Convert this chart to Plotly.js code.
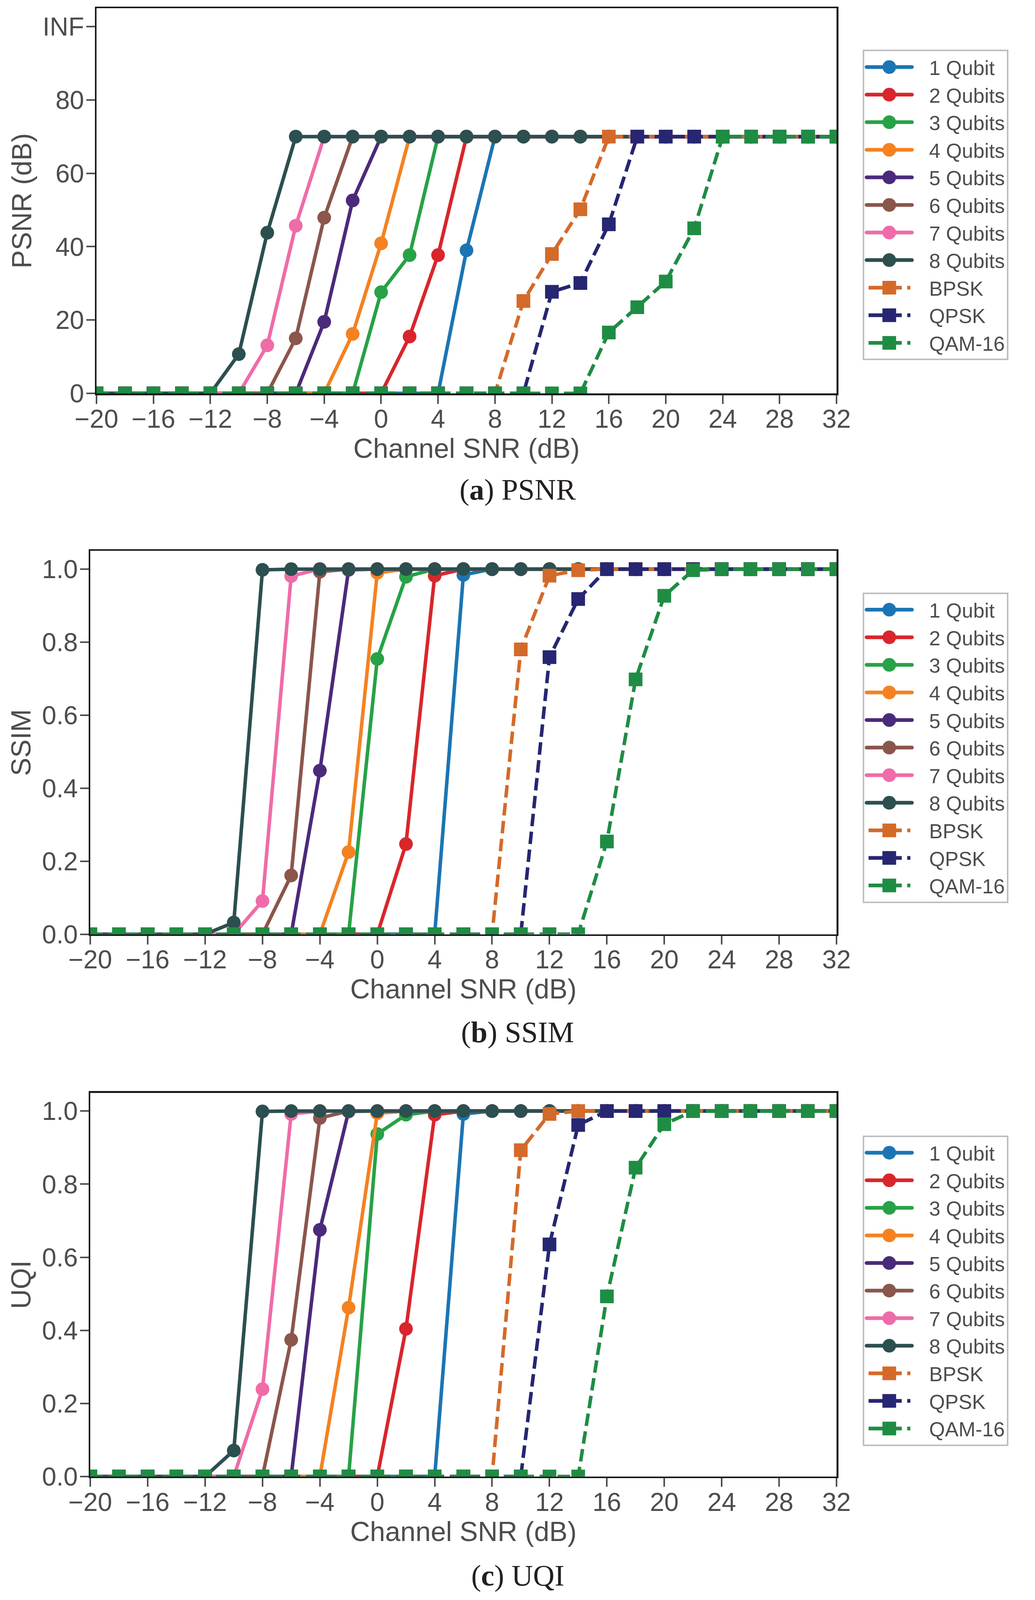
<!DOCTYPE html>
<html>
<head>
<meta charset="utf-8">
<script src="https://cdn.plot.ly/plotly-3.0.1.min.js"></script>
<style>
  html, body { margin: 0; padding: 0; background: #ffffff; overflow: hidden; }
  #grafico { width: 2649px; }
</style>
</head>
<body>
<div id="grafico"></div>
<script>
// canal SNR (dB)
var snr = [-20, -18, -16, -14, -12, -10, -8, -6, -4, -2, 0, 2, 4, 6, 8, 10, 12, 14, 16, 18, 20, 22, 24, 26, 28, 30, 32];

var xTicks = [-20, -16, -12, -8, -4, 0, 4, 8, 12, 16, 20, 24, 28, 32];
var xTickText = ["\u221220", "\u221216", "\u221212", "\u22128", "\u22124", "0", "4", "8", "12", "16", "20", "24", "28", "32"];
var psnrTicks = [0, 20, 40, 60, 80, 100];
var psnrTickText = ["0", "20", "40", "60", "80", "INF"];
var unitTicks = [0, 0.2, 0.4, 0.6, 0.8, 1.0];
var unitTickText = ["0.0", "0.2", "0.4", "0.6", "0.8", "1.0"];

var seriesNames = ["1 Qubit", "2 Qubits", "3 Qubits", "4 Qubits", "5 Qubits", "6 Qubits", "7 Qubits", "8 Qubits", "BPSK", "QPSK", "QAM-16"];

// PSNR (dB), INF se dibuja en 100
var psnrQ1   = [0,0,0,0,0, 0,0,0,0,0, 0,0,0, 39.0, 70,70,70,70,70, 70,70,70,70,70, 70,70,70];
var psnrQ2   = [0,0,0,0,0, 0,0,0,0,0, 0, 15.5, 37.7, 70,70,70,70,70, 70,70,70,70,70, 70,70,70,70];
var psnrQ3   = [0,0,0,0,0, 0,0,0,0,0, 27.6, 37.7, 70,70,70,70,70, 70,70,70,70,70, 70,70,70,70,70];
var psnrQ4   = [0,0,0,0,0, 0,0,0,0, 16.2, 40.9, 70,70,70,70,70, 70,70,70,70,70, 70,70,70,70,70, 70];
var psnrQ5   = [0,0,0,0,0, 0,0,0, 19.5, 52.6, 70,70,70,70,70, 70,70,70,70,70, 70,70,70,70,70, 70,70];
var psnrQ6   = [0,0,0,0,0, 0,0, 15.0, 47.9, 70,70,70,70,70, 70,70,70,70,70, 70,70,70,70,70, 70,70,70];
var psnrQ7   = [0,0,0,0,0, 0, 13.1, 45.7, 70,70,70,70,70, 70,70,70,70,70, 70,70,70,70,70, 70,70,70,70];
var psnrQ8   = [0,0,0,0,0, 10.7, 43.8, 70,70,70,70,70, 70,70,70,70,70, 70,70,70,70,70, 70,70,70,70,70];
var psnrBpsk = [0,0,0,0,0, 0,0,0,0,0, 0,0,0,0,0, 25.2, 38.0, 50.2, 70,70,70,70,70, 70,70,70,70];
var psnrQpsk = [0,0,0,0,0, 0,0,0,0,0, 0,0,0,0,0, 0, 27.7, 30.1, 46.1, 70,70,70,70,70, 70,70,70];
var psnrQam  = [0,0,0,0,0, 0,0,0,0,0, 0,0,0,0,0, 0,0,0, 16.6, 23.5, 30.5, 45.0, 70,70,70, 70,70];

// SSIM
var ssimQ1   = [0,0,0,0,0, 0,0,0,0,0, 0,0,0, 0.984, 1,1,1,1,1, 1,1,1,1,1, 1,1,1];
var ssimQ2   = [0,0,0,0,0, 0,0,0,0,0, 0, 0.247, 0.982, 1,1,1,1,1, 1,1,1,1,1, 1,1,1,1];
var ssimQ3   = [0,0,0,0,0, 0,0,0,0,0, 0.754, 0.979, 1,1,1,1,1, 1,1,1,1,1, 1,1,1,1,1];
var ssimQ4   = [0,0,0,0,0, 0,0,0,0, 0.225, 0.990, 1,1,1,1,1, 1,1,1,1,1, 1,1,1,1,1, 1];
var ssimQ5   = [0,0,0,0,0, 0,0,0, 0.448, 0.998, 1,1,1,1,1, 1,1,1,1,1, 1,1,1,1,1, 1,1];
var ssimQ6   = [0,0,0,0,0, 0,0, 0.161, 0.993, 1,1,1,1,1, 1,1,1,1,1, 1,1,1,1,1, 1,1,1];
var ssimQ7   = [0,0,0,0,0, 0, 0.091, 0.981, 1,1,1,1,1, 1,1,1,1,1, 1,1,1,1,1, 1,1,1,1];
var ssimQ8   = [0,0,0,0,0, 0.032, 0.998, 1,1,1,1,1, 1,1,1,1,1, 1,1,1,1,1, 1,1,1,1,1];
var ssimBpsk = [0,0,0,0,0, 0,0,0,0,0, 0,0,0,0,0, 0.780, 0.982, 0.997, 1,1,1,1,1, 1,1,1,1];
var ssimQpsk = [0,0,0,0,0, 0,0,0,0,0, 0,0,0,0,0, 0, 0.759, 0.918, 1,1,1,1,1, 1,1,1,1];
var ssimQam  = [0,0,0,0,0, 0,0,0,0,0, 0,0,0,0,0, 0,0,0, 0.254, 0.698, 0.927, 0.997, 1,1,1, 1,1];

// UQI
var uqiQ1   = [0,0,0,0,0, 0,0,0,0,0, 0,0,0, 0.992, 1,1,1,1,1, 1,1,1,1,1, 1,1,1];
var uqiQ2   = [0,0,0,0,0, 0,0,0,0,0, 0, 0.404, 0.990, 1,1,1,1,1, 1,1,1,1,1, 1,1,1,1];
var uqiQ3   = [0,0,0,0,0, 0,0,0,0,0, 0.937, 0.990, 1,1,1,1,1, 1,1,1,1,1, 1,1,1,1,1];
var uqiQ4   = [0,0,0,0,0, 0,0,0,0, 0.462, 0.994, 1,1,1,1,1, 1,1,1,1,1, 1,1,1,1,1, 1];
var uqiQ5   = [0,0,0,0,0, 0,0,0, 0.675, 0.999, 1,1,1,1,1, 1,1,1,1,1, 1,1,1,1,1, 1,1];
var uqiQ6   = [0,0,0,0,0, 0,0, 0.374, 0.981, 1,1,1,1,1, 1,1,1,1,1, 1,1,1,1,1, 1,1,1];
var uqiQ7   = [0,0,0,0,0, 0, 0.239, 0.992, 1,1,1,1,1, 1,1,1,1,1, 1,1,1,1,1, 1,1,1,1];
var uqiQ8   = [0,0,0,0,0, 0.071, 0.999, 1,1,1,1,1, 1,1,1,1,1, 1,1,1,1,1, 1,1,1,1,1];
var uqiBpsk = [0,0,0,0,0, 0,0,0,0,0, 0,0,0,0,0, 0.893, 0.992, 1,1,1,1,1, 1,1,1,1,1];
var uqiQpsk = [0,0,0,0,0, 0,0,0,0,0, 0,0,0,0,0, 0, 0.635, 0.962, 1,1,1,1,1, 1,1,1,1];
var uqiQam  = [0,0,0,0,0, 0,0,0,0,0, 0,0,0,0,0, 0,0,0, 0.493, 0.845, 0.964, 1,1,1,1, 1,1];

var psnrSeries = [psnrQ1, psnrQ2, psnrQ3, psnrQ4, psnrQ5, psnrQ6, psnrQ7, psnrQ8, psnrBpsk, psnrQpsk, psnrQam];
var ssimSeries = [ssimQ1, ssimQ2, ssimQ3, ssimQ4, ssimQ5, ssimQ6, ssimQ7, ssimQ8, ssimBpsk, ssimQpsk, ssimQam];
var uqiSeries  = [uqiQ1, uqiQ2, uqiQ3, uqiQ4, uqiQ5, uqiQ6, uqiQ7, uqiQ8, uqiBpsk, uqiQpsk, uqiQam];

var colores = ["#1b75b4", "#d8262c", "#27a246", "#f48221", "#4b2a7b", "#8b564b", "#ef6ca8", "#2c4f4f", "#d46a2a", "#262672", "#1f8c44"];

// la figura original mide 2649x4470; si la ventana es mas baja se comprime en vertical
var W = 2649, H_REF = 4470;
var H = Math.min(window.innerHeight || H_REF, H_REF);
var sansFont = "Liberation Sans, Arial, Helvetica, sans-serif";
var grisTexto = "#4d4d4d";

function px(v) { return v / W; }
function py(v) { return 1 - v / H_REF; }

document.addEventListener("DOMContentLoaded", function () {
    dibujar();
});

function armarTrazas(valores, xa, ya, leyenda) {
    var trazas = [];
    for (var i = 0; i < seriesNames.length; i++) {
        var esMod = i >= 8;
        trazas.push({
            type: "scatter",
            mode: "lines+markers",
            x: snr,
            y: valores[i],
            name: seriesNames[i],
            xaxis: xa,
            yaxis: ya,
            legend: leyenda,
            cliponaxis: true,
            line: { color: colores[i], width: 9, dash: esMod ? "32px,14px" : "solid" },
            marker: { color: colores[i], size: 35, symbol: esMod ? "square" : "circle" }
        });
    }
    return trazas;
}

function ejeX(dominio, anchorY) {
    return {
        domain: dominio,
        anchor: anchorY,
        range: [-20, 32],
        tickmode: "array",
        tickvals: xTicks,
        ticktext: xTickText,
        showgrid: false,
        zeroline: false,
        showline: true,
        linecolor: "#1a1a1a",
        linewidth: 4.5,
        mirror: true,
        ticks: "outside",
        ticklen: 22,
        tickwidth: 4,
        tickcolor: grisTexto,
        ticklabelstandoff: -18,
        tickfont: { family: sansFont, size: 66, color: grisTexto },
        automargin: false,
        title: { text: "Channel SNR (dB)", font: { family: sansFont, size: 70, color: grisTexto }, standoff: 0 }
    };
}

function ejeY(dominio, anchorX, rango, vals, textos, titulo) {
    return {
        domain: dominio,
        anchor: anchorX,
        range: rango,
        tickmode: "array",
        tickvals: vals,
        ticktext: textos,
        showgrid: false,
        zeroline: false,
        showline: true,
        linecolor: "#1a1a1a",
        linewidth: 4.5,
        mirror: true,
        ticks: "outside",
        ticklen: 22,
        tickwidth: 4,
        tickcolor: grisTexto,
        ticklabelstandoff: -8,
        tickfont: { family: sansFont, size: 66, color: grisTexto },
        automargin: false,
        title: { text: titulo, font: { family: sansFont, size: 70, color: grisTexto }, standoff: 7 }
    };
}

function leyendaEn(yTop) {
    return {
        x: px(2208),
        xanchor: "left",
        y: py(yTop),
        yanchor: "top",
        bgcolor: "#ffffff",
        bordercolor: "#bfbfbf",
        borderwidth: 4,
        itemwidth: 156,
        traceorder: "normal",
        font: { family: sansFont, size: 52, color: grisTexto }
    };
}

// simbolos de leyenda mas largos, como en la figura original
function ajustarLeyendas(gd) {
    ["g.legend", "g.legend2", "g.legend3"].forEach(function (sel) {
        var grupo = gd.querySelector(sel);
        if (!grupo) return;
        var items = grupo.querySelectorAll("g.traces");
        items.forEach(function (it, k) {
            var esMod = k >= 8;
            var d = it.__data__;
            if (d && d[0] && d[0].trace && d[0].trace.marker) {
                esMod = d[0].trace.marker.symbol === "square";
            }
            var linea = it.querySelector("g.legendlines path");
            if (linea) {
                linea.setAttribute("d", esMod ? "M11,0h107" : "M6,0h116");
                linea.style.strokeWidth = "9.5px";
                linea.style.strokeLinecap = esMod ? "butt" : "round";
                if (esMod) linea.style.strokeDasharray = "85px,14px";
            }
            var punto = it.querySelector("g.legendpoints path.scatterpts");
            if (punto) {
                punto.setAttribute("d", esMod ? "M17.5,17.5H-17.5V-17.5H17.5Z" : "M17.5,0A17.5,17.5 0 1,1 0,-17.5A17.5,17.5 0 0,1 17.5,0Z");
                punto.setAttribute("transform", "translate(64,0)");
            }
        });
    });
}

function pie(texto, yRef) {
    return {
        text: texto, xref: "paper", yref: "paper", x: 0.5, y: py(yRef),
        xanchor: "center", yanchor: "middle", showarrow: false,
        font: { family: "Liberation Serif, Times New Roman, serif", size: 76, color: "#231f20" }
    };
}

function dibujar() {
    document.getElementById("grafico").style.height = H + "px";

    var data = []
        .concat(armarTrazas(psnrSeries, "x", "y", "legend"))
        .concat(armarTrazas(ssimSeries, "x2", "y2", "legend2"))
        .concat(armarTrazas(uqiSeries, "x3", "y3", "legend3"));

    var layout = {
        width: W,
        height: H,
        margin: { l: 0, r: 0, t: 0, b: 0 },
        paper_bgcolor: "#ffffff",
        plot_bgcolor: "#ffffff",
        showlegend: true,
        xaxis: ejeX([px(247), px(2141)], "y"),
        yaxis: ejeY([py(1099), py(23)], "x", [0, 105], psnrTicks, psnrTickText, "PSNR (dB)"),
        xaxis2: ejeX([px(231), px(2141)], "y2"),
        yaxis2: ejeY([py(2610), py(1539)], "x2", [0, 1.05], unitTicks, unitTickText, "SSIM"),
        xaxis3: ejeX([px(231), px(2141)], "y3"),
        yaxis3: ejeY([py(4125), py(3053)], "x3", [0, 1.05], unitTicks, unitTickText, "UQI"),
        legend: leyendaEn(139),
        legend2: leyendaEn(1655),
        legend3: leyendaEn(3172),
        annotations: [
            pie("(<b>a</b>) PSNR", 1368),
            pie("(<b>b</b>) SSIM", 2884),
            pie("(<b>c</b>) UQI", 4402)
        ]
    };

    Plotly.newPlot("grafico", data, layout, { staticPlot: true, displayModeBar: false }).then(function (gd) {
        ajustarLeyendas(gd);
    });
}
</script>
</body>
</html>
